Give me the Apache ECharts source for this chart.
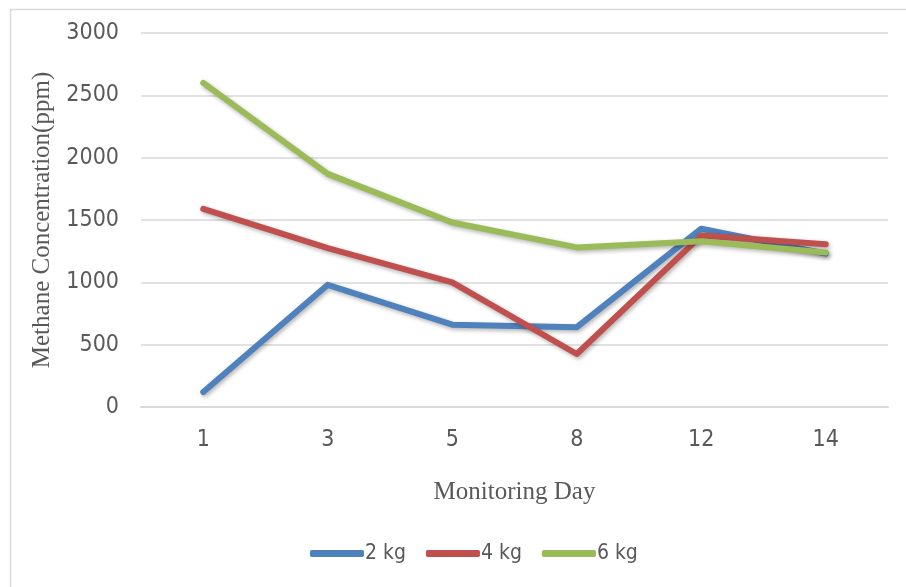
<!DOCTYPE html>
<html>
<head>
<meta charset="utf-8">
<script src="https://cdn.jsdelivr.net/npm/echarts@6/dist/echarts.min.js"></script>
<style>
html,body{margin:0;padding:0;background:#fff;}
#chart{width:906px;height:587px;}
</style>
</head>
<body>
<div id="chart"></div>
<script>
const days = ['1', '3', '5', '8', '12', '14'];
const kg2 = [120, 980, 660, 640, 1430, 1230];
const kg4 = [1590, 1275, 1000, 425, 1375, 1305];
const kg6 = [2600, 1870, 1480, 1280, 1330, 1240];
const seriesNames = ['2 kg', '4 kg', '6 kg'];
const colors = ['#4f81bd', '#c0504d', '#9bbb59'];

const narrow = "'Liberation Sans Narrow', 'DejaVu Sans Condensed', sans-serif";
const serif = "'Liberation Serif', 'DejaVu Serif', serif";

const chart = echarts.init(document.getElementById('chart'));
const mk = (name, data, color) => ({
  name: name,
  type: 'line',
  data: data,
  symbol: 'none',
  lineStyle: {
    width: 6, color: color, cap: 'round', join: 'round',
    shadowBlur: 4, shadowColor: 'rgba(0,0,0,0.3)', shadowOffsetX: 1.5, shadowOffsetY: 2
  },
  itemStyle: { color: color },
  z: 3
});
chart.setOption({
  animation: false,
  backgroundColor: '#fff',
  graphic: [{
    type: 'rect', left: 8, top: 7,
    shape: { width: 1000, height: 1000 },
    style: { fill: 'none', stroke: '#d9d9d9', lineWidth: 1.5 },
    silent: true
  }],
  grid: { left: 141, right: 18, top: 33, bottom: 180 },
  legend: {
    data: seriesNames,
    bottom: 18,
    left: 305,
    icon: 'roundRect',
    itemWidth: 54,
    itemHeight: 7,
    itemGap: 20,
    textStyle: { color: '#595959', fontSize: 21, fontFamily: narrow, padding: [0, 0, 0, -4] }
  },
  xAxis: {
    type: 'category',
    data: days,
    boundaryGap: true,
    name: 'Monitoring Day',
    nameLocation: 'middle',
    nameGap: 73,
    nameTextStyle: { color: '#595959', fontSize: 25, fontFamily: serif },
    axisLine: { lineStyle: { color: '#d9d9d9', width: 2 } },
    axisTick: { show: false },
    axisLabel: { color: '#595959', fontSize: 23, fontFamily: narrow, margin: 22 }
  },
  yAxis: {
    type: 'value',
    min: 0, max: 3000, interval: 500,
    name: 'Methane Concentration(ppm)',
    nameLocation: 'middle',
    nameGap: 86,
    nameTextStyle: { color: '#595959', fontSize: 25, fontFamily: serif },
    axisLine: { show: false },
    axisTick: { show: false },
    axisLabel: { color: '#595959', fontSize: 23, fontFamily: narrow, margin: 22, formatter: v => String(v) },
    splitLine: { lineStyle: { color: '#d9d9d9', width: 1.5 } }
  },
  series: [mk(seriesNames[0], kg2, colors[0]), mk(seriesNames[1], kg4, colors[1]), mk(seriesNames[2], kg6, colors[2])]
});
</script>
</body>
</html>
